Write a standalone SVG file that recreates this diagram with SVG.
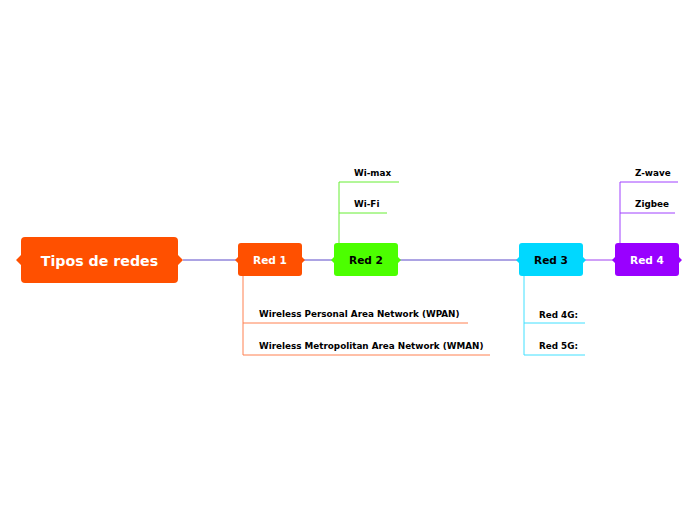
<svg xmlns="http://www.w3.org/2000/svg" width="696" height="520" viewBox="0 0 696 520">
<style>
.t{font-family:"DejaVu Sans","Verdana",sans-serif;font-weight:bold}
.root{font-size:14.2px;fill:#fff}
.node{font-size:10.6px}
.leaf{font-size:8.8px;fill:#000}
.w{fill:#fff}.b{fill:#000}
line,polyline{fill:none;stroke-width:1}
</style>
<rect width="696" height="520" fill="#fff"/>
<g id="connectors">
<line x1="183" y1="260" x2="238" y2="260" stroke="#5a48c8"/>
<line x1="302" y1="260" x2="334" y2="260" stroke="#5a48c8"/>
<line x1="398" y1="260" x2="519" y2="260" stroke="#5a48c8"/>
<line x1="583" y1="260" x2="615" y2="260" stroke="#a040f0"/>
<polyline points="339,243 339,182 399,182" stroke="#66ee33"/>
<polyline points="339,213 387,213" stroke="#66ee33"/>
<polyline points="620,243 620,182 678,182" stroke="#a040ff"/>
<polyline points="620,213 675,213" stroke="#a040ff"/>
<polyline points="243,276 243,355 490,355" stroke="#ff8050"/>
<polyline points="243,323 468,323" stroke="#ff8050"/>
<polyline points="524,276 524,355 585,355" stroke="#40e0ff"/>
<polyline points="524,323 585,323" stroke="#40e0ff"/>
</g>
<g id="root">
<path d="M21,255 L16,260 L21,265 Z M178,255 L183,260 L178,265 Z" fill="#ff5000"/>
<rect x="21" y="237" width="157" height="46" rx="4" fill="#ff5000"/>
<text class="t root" x="99.5" y="266" text-anchor="middle">Tipos de redes</text>
</g>
<g id="red1">
<path d="M238,257 L235,260 L238,263 Z M302,257 L305,260 L302,263 Z" fill="#ff5000"/>
<rect x="238" y="243" width="64" height="33" rx="3" fill="#ff5000"/>
<text class="t node w" x="270" y="264" text-anchor="middle">Red 1</text>
</g>
<g id="red2">
<path d="M334,257 L331,260 L334,263 Z M398,257 L401,260 L398,263 Z" fill="#4cff00"/>
<rect x="334" y="243" width="64" height="33" rx="3" fill="#4cff00"/>
<text class="t node b" x="366" y="264" text-anchor="middle">Red 2</text>
</g>
<g id="red3">
<path d="M519,257 L516,260 L519,263 Z M583,257 L586,260 L583,263 Z" fill="#00d8ff"/>
<rect x="519" y="243" width="64" height="33" rx="3" fill="#00d8ff"/>
<text class="t node b" x="551" y="264" text-anchor="middle">Red 3</text>
</g>
<g id="red4">
<path d="M615,257 L612,260 L615,263 Z M679,257 L682,260 L679,263 Z" fill="#9900ff"/>
<rect x="615" y="243" width="64" height="33" rx="3" fill="#9900ff"/>
<text class="t node w" x="647" y="264" text-anchor="middle">Red 4</text>
</g>
<g id="wimax"><text class="t leaf" x="354" y="176">Wi-max</text></g>
<g id="wifi"><text class="t leaf" x="354" y="207">Wi-Fi</text></g>
<g id="zwave"><text class="t leaf" x="635" y="176">Z-wave</text></g>
<g id="zigbee"><text class="t leaf" x="635" y="207">Zigbee</text></g>
<g id="wpan"><text class="t leaf" x="259" y="317">Wireless Personal Area Network (WPAN)</text></g>
<g id="wman"><text class="t leaf" x="259" y="349">Wireless Metropolitan Area Network (WMAN)</text></g>
<g id="red4g"><text class="t leaf" x="539" y="318">Red 4G:</text></g>
<g id="red5g"><text class="t leaf" x="539" y="349">Red 5G:</text></g>
</svg>
